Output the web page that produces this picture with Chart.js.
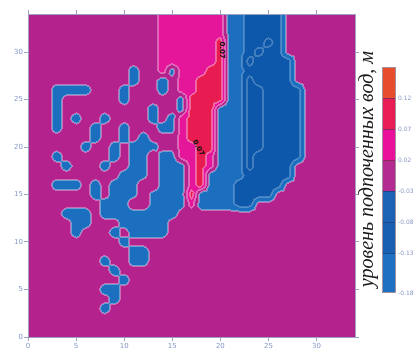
<!DOCTYPE html>
<html lang="ru">
<head>
<meta charset="utf-8">
<title>уровень подпоченных вод</title>
<script src="https://cdn.jsdelivr.net/npm/chart.js@4.4.1/dist/chart.umd.min.js"></script>
<style>
  html, body { margin: 0; padding: 0; background: #fff; }
  canvas { display: block; }
</style>
</head>
<body>
<canvas id="mapa" width="419" height="354"></canvas>
<script>
// rejilla de nodos: cada fila es un y (de 34 arriba a 0 abajo), cada caracter un x (0..34)
const filas = [
    "..............pppppppBBdddd........", // 34
    "..............pppppppBBdddd........", // 33
    "..............pppppppBBdddd........", // 32
    "..............pppppprBBddDd........", // 31
    "..............pppppprBBdDdd........", // 30
    "..............pppppprBBDdddd.......", // 29
    "...........b..pbppprrBBddddd.......", // 28
    "...........b..b.pprrrBBDdddd.......", // 27
    "...bbbb...b...b.pprrrBBDDdddd......", // 26
    "...b......b.....brrrrBBDDdddd......", // 25
    "...b.........b..brrrBBBDDdddd......", // 24
    "...b.b..b....b.bprrrBBBDDdddd......", // 23
    "...b...b..b...bbprrrBBBDDdddd......", // 22
    ".......b..b.b...prrrBBBDDdddd......", // 21
    "......b..b.bbb..pprrBBBDDdddd......", // 20
    "...b.....b.bbhbbpprpBBBDddddd......", // 19
    "....b...b..bbhbbbprpBBBDdddd.......", // 18
    "..........bbbhbbbprBBBBddddd.......", // 17
    "...bbb.b.bbbhhbbbprBBBddddd........", // 16
    ".......b.bbbhbbbbrBBBBdddd.........", // 15
    "........bbbhhbbbbpBBBBdd...........", // 14
    "....bbb.bbbbbbbb...................", // 13
    ".....bb...bbbbb....................", // 12
    ".....b...b.bbbb....................", // 11
    "..........b........................", // 10
    "...........bb......................", // 9
    "........b..bb......................", // 8
    ".........b.........................", // 7
    "..........b........................", // 6
    "........bb.........................", // 5
    ".........b.........................", // 4
    "........b..........................", // 3
    "...................................", // 2
    "...................................", // 1
    "..................................."  // 0
];

// valor (m) que representa cada caracter
const valoresClase = { '.': -0.012, h: 0.015, b: -0.052, B: -0.06, d: -0.105, D: -0.15, p: 0.045, r: 0.095 };

const ticksEjes = [0, 5, 10, 15, 20, 25, 30];
const umbrales = [-0.13, -0.08, -0.03, 0.02, 0.07, 0.12];
// colores del mapa, del nivel mas bajo al mas alto
const coloresNivel = ['#0c57a9', '#0d58aa', '#1c6ebf', '#b4228d', '#e5169a', '#e81c50', '#e94a2c'];

// escala de colores (arriba -> abajo)
const escalaColores = ['#e84d2b', '#e81d55', '#eb109b', '#b32a91', '#1d63b5', '#1a60b2', '#1e70c3'];
const escalaEtiquetas = ['0.12', '0.07', '0.02', '-0.03', '-0.08', '-0.13', '-0.18'];
const titulo = 'уровень подпоченных вод, м';

// etiquetas de la isolinea 0.07
const contornoX = [20.15, 17.7];
const contornoY = [30.2, 19.9];
const contornoTexto = ['0.07', '0.07'];

const nodos = filas.slice().reverse().map(f => [...f].map(c => valoresClase[c]));

// interpolacion lineal en 4 triangulos por celda (como un trazador de isolineas)
function valorEn(x, y) {
    const nx = nodos[0].length - 1, ny = nodos.length - 1;
    x = Math.min(Math.max(x, 0), nx);
    y = Math.min(Math.max(y, 0), ny);
    const i = Math.min(Math.floor(x), nx - 1), j = Math.min(Math.floor(y), ny - 1);
    const fx = x - i, fy = y - j;
    const v00 = nodos[j][i], v10 = nodos[j][i + 1], v01 = nodos[j + 1][i], v11 = nodos[j + 1][i + 1];
    const c = (v00 + v10 + v01 + v11) / 4;
    if (fy <= fx && fx + fy <= 1) {
        const w = 2 * fy, u = fx - fy;
        return v00 + u * (v10 - v00) + w * (c - v00);
    }
    if (fy <= fx) {
        const w = 2 * (1 - fx), u = fy - (1 - fx);
        return v10 + u * (v11 - v10) + w * (c - v10);
    }
    if (fx + fy >= 1) {
        const w = 2 * (1 - fy), u = fx - (1 - fy);
        return v01 + u * (v11 - v01) + w * (c - v01);
    }
    const w = 2 * fx, u = fy - fx;
    return v00 + u * (v01 - v00) + w * (c - v00);
}

function nivel(v) {
    let k = 0;
    for (const u of umbrales) if (v > u) k++;
    return k;
}

function hexRgb(h) {
    return [parseInt(h.slice(1, 3), 16), parseInt(h.slice(3, 5), 16), parseInt(h.slice(5, 7), 16)];
}

const pluginMapa = {
    id: 'mapa',
    beforeDraw(chart) {
        const { ctx, chartArea: a, scales: { x, y } } = chart;
        const x0 = Math.round(a.left), y0 = Math.round(a.top);
        const w = Math.round(a.right) - x0, h = Math.round(a.bottom) - y0;
        const niv = new Uint8Array(w * h);
        for (let r = 0; r < h; r++) {
            const vy = y.getValueForPixel(y0 + r + 0.5);
            for (let c = 0; c < w; c++) {
                niv[r * w + c] = nivel(valorEn(x.getValueForPixel(x0 + c + 0.5), vy));
            }
        }
        const rgb = coloresNivel.map(hexRgb);
        const img = ctx.createImageData(w, h);
        for (let r = 0; r < h; r++) {
            for (let c = 0; c < w; c++) {
                const idx = r * w + c, k = niv[idx];
                let borde = -1;
                const vecinos = [];
                if (c > 0) vecinos.push(niv[idx - 1]);
                if (c < w - 1) vecinos.push(niv[idx + 1]);
                if (r > 0) vecinos.push(niv[idx - w]);
                if (r < h - 1) vecinos.push(niv[idx + w]);
                for (const n of vecinos) if (n !== k) borde = n;
                let [R, G, B] = rgb[k];
                if (borde >= 0) {
                    // halo claro en las isolineas
                    const f = (k <= 2 && borde <= 2) ? 0.22 : 0.33;
                    R += (255 - R) * f; G += (255 - G) * f; B += (255 - B) * f;
                }
                const p = idx * 4;
                img.data[p] = R; img.data[p + 1] = G; img.data[p + 2] = B; img.data[p + 3] = 255;
            }
        }
        ctx.putImageData(img, x0, y0);
    },
    afterDraw(chart) {
        const { ctx, scales: { x, y } } = chart;

        // etiquetas de isolinea
        ctx.save();
        ctx.fillStyle = '#111';
        ctx.font = 'bold 7px "DejaVu Sans"';
        ctx.textAlign = 'center';
        ctx.textBaseline = 'middle';
        const giros = [Math.PI / 2, Math.PI * 0.34];
        contornoTexto.forEach((t, i) => {
            ctx.save();
            ctx.translate(x.getPixelForValue(contornoX[i]), y.getPixelForValue(contornoY[i]));
            ctx.rotate(giros[i]);
            ctx.fillText(t, 0, 0);
            ctx.restore();
        });
        ctx.restore();

        // escala de colores
        const cbx = 382, cbw = 14, cbTop = 67, seg = 31, cbBottom = 293;
        ctx.save();
        escalaColores.forEach((col, i) => {
            const t = cbTop + seg * i;
            const b = i === escalaColores.length - 1 ? cbBottom : t + seg;
            ctx.fillStyle = col;
            ctx.fillRect(cbx, t, cbw, b - t);
        });
        ctx.lineWidth = 1;
        for (let i = 1; i < escalaColores.length; i++) {
            const yy = cbTop + seg * i + 0.5;
            ctx.strokeStyle = i <= 3 ? '#8c2a5c' : '#1b4a8c';
            ctx.beginPath();
            ctx.moveTo(cbx, yy);
            ctx.lineTo(cbx + cbw, yy);
            ctx.stroke();
        }
        ctx.strokeStyle = '#a3909c';
        ctx.strokeRect(cbx + 0.5, cbTop + 0.5, cbw - 1, cbBottom - cbTop - 1);

        ctx.fillStyle = '#8a9ac6';
        ctx.font = '6px "DejaVu Sans"';
        ctx.textAlign = 'left';
        ctx.textBaseline = 'middle';
        escalaEtiquetas.forEach((t, i) => {
            const yy = i === escalaEtiquetas.length - 1 ? cbBottom : cbTop + seg * (i + 1);
            ctx.fillText(t, cbx + cbw + 2, yy);
        });

        // titulo vertical
        ctx.translate(373, 169);
        ctx.rotate(-Math.PI / 2);
        ctx.fillStyle = '#1a1a1a';
        ctx.font = 'italic 20px "Liberation Serif"';
        ctx.textAlign = 'center';
        ctx.textBaseline = 'alphabetic';
        ctx.fillText(titulo, 0, 0);
        ctx.restore();
    }
};

const colorEje = '#9ea2c2';
const tickMarcas = s => { s.ticks = ticksEjes.map(v => ({ value: v })); };

function ejeBase(pos, tam, conEtiquetas) {
    return {
        type: 'linear',
        position: pos,
        min: 0,
        max: 34,
        afterBuildTicks: tickMarcas,
        afterFit: s => {
            if (pos === 'left' || pos === 'right') s.width = tam; else s.height = tam;
        },
        grid: { drawOnChartArea: false, drawTicks: true, tickLength: 4, color: colorEje },
        border: { display: true, color: colorEje, width: 1 },
        ticks: {
            display: conEtiquetas,
            padding: 1,
            color: '#8298c8',
            font: { family: 'DejaVu Sans', size: 7 }
        }
    };
}

new Chart(document.getElementById('mapa'), {
    type: 'scatter',
    data: { datasets: [] },
    options: {
        responsive: false,
        devicePixelRatio: 1,
        animation: false,
        layout: { padding: 0 },
        plugins: { legend: { display: false }, tooltip: { enabled: false } },
        scales: {
            x: ejeBase('bottom', 17, true),
            x2: ejeBase('top', 14, false),
            y: ejeBase('left', 28, true),
            y2: ejeBase('right', 64, false)
        }
    },
    plugins: [pluginMapa]
});
</script>
</body>
</html>
